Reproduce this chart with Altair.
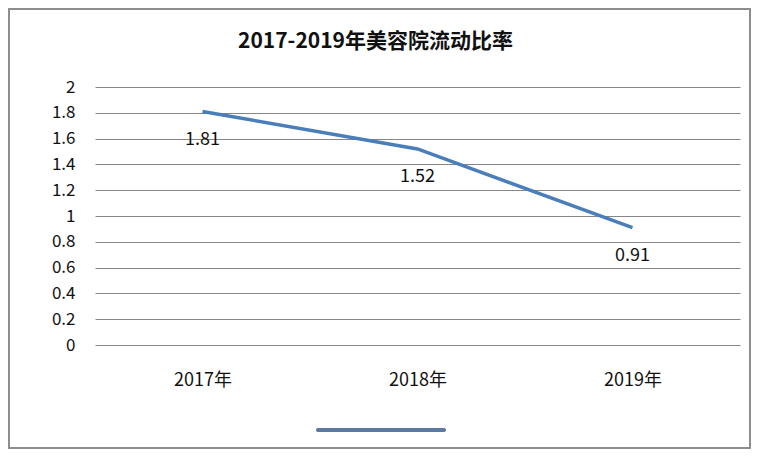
import altair as alt
import pandas as pd

years = ["2017年", "2018年", "2019年"]
ratios = [1.81, 1.52, 0.91]

df = pd.DataFrame({"year": years, "ratio": ratios})

FONT = "Noto Sans CJK SC"
W, H = 645, 258

base = alt.Chart(df).encode(
    x=alt.X("year:N", sort=years, scale=alt.Scale(type="point", padding=0.5),
            axis=alt.Axis(title=None, labelAngle=0, domain=False, ticks=False,
                          grid=False, labelPadding=26, labelFontSize=18,
                          labelFont=FONT, labelColor="#111")),
    y=alt.Y("ratio:Q", scale=alt.Scale(domain=[0, 2]),
            axis=alt.Axis(title=None, values=[0, 0.2, 0.4, 0.6, 0.8, 1, 1.2, 1.4, 1.6, 1.8, 2],
                          labelExpr="format(datum.value, '~g')", domain=False, ticks=False,
                          gridColor="#868686", gridWidth=1, labelPadding=20,
                          labelFontSize=17, labelFont=FONT, labelColor="#111")),
)

line = base.mark_line(strokeWidth=3.5, color="#4a7ebb")

labels = base.mark_text(dy=28, fontSize=18, font=FONT, color="#111").encode(
    text=alt.Text("ratio:Q", format=".2f")
)

# legend key (series without a name): a plain line sample under the axis
legend_key = alt.Chart(df).mark_rule(strokeWidth=3.5, color="#5a7aa3", strokeCap="round").encode(
    x=alt.value(223), x2=alt.value(349), y=alt.value(343)
)

frame = alt.Chart(df).mark_rect(fill=None, stroke="#8c8c8c", strokeWidth=1.5).encode(
    x=alt.value(-86), x2=alt.value(W + 10), y=alt.value(-78), y2=alt.value(H + 103)
)

chart = alt.layer(frame, line, labels, legend_key).properties(
    width=W, height=H,
    title=alt.TitleParams("2017-2019年美容院流动比率", font=FONT, fontSize=21,
                          fontWeight="bold", color="#111", offset=-44, dx=-42),
    autosize=alt.AutoSizeParams(type="none"),
    padding={"left": 87, "top": 79, "right": 11, "bottom": 104},
).configure_view(stroke=None)

chart.save("out.html", embed_options={"renderer": "svg", "actions": False})
